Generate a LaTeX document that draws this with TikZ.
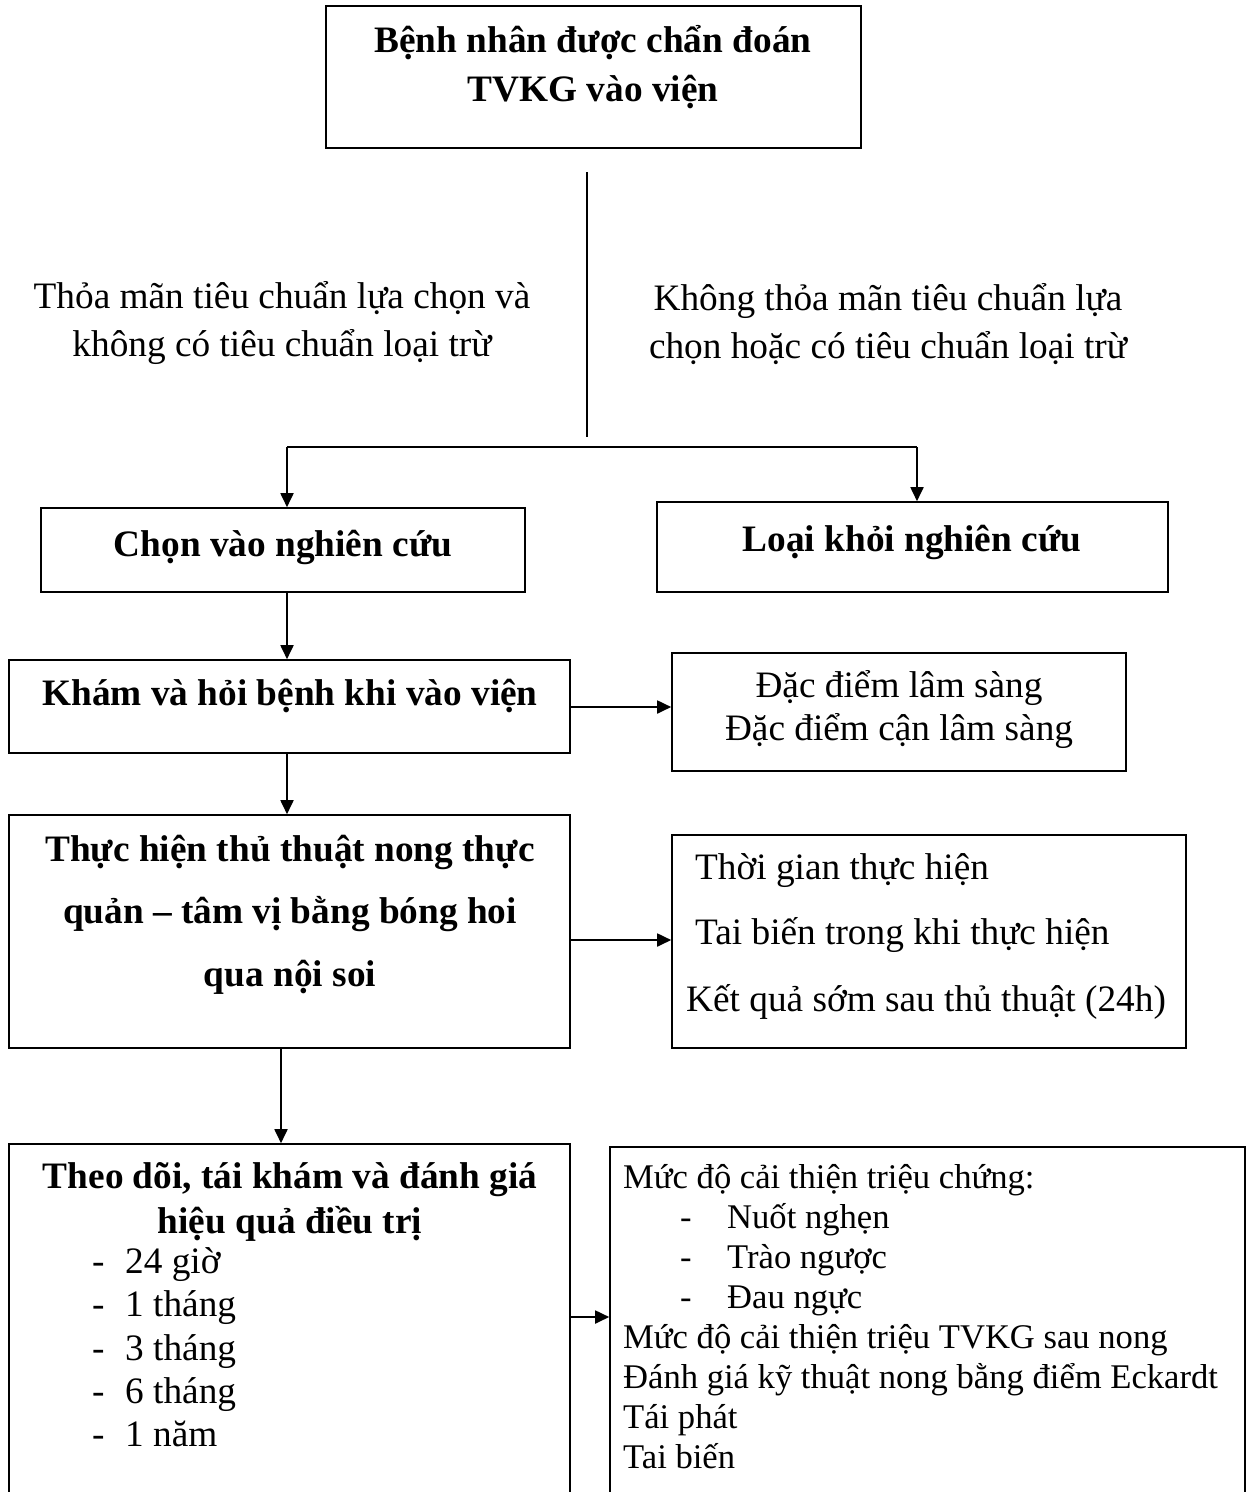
\documentclass[tikz,border=0pt]{standalone}
\usepackage{fontspec}
\setmainfont{Liberation Serif}
\usetikzlibrary{arrows.meta,fit}
\begin{document}
\begin{tikzpicture}[x=1pt,y=-1pt,
  box/.style={draw, line width=1.6pt, inner sep=0pt},
  txt/.style={inner sep=0pt, anchor=base, font=\fontsize{37.3}{42}\selectfont},
  btxt/.style={txt, font=\fontsize{37.3}{42}\selectfont\bfseries},
  ltxt/.style={txt, anchor=base west},
  stxt/.style={ltxt, font=\fontsize{34.6}{40}\selectfont},
  arr/.style={line width=1.8pt, -{Triangle[length=14pt,width=13pt]}},
  ln/.style={line width=1.5pt}]
\clip (0,0) rectangle (1251,1492);
% boxes
\node[box, fit={(326,6) (861,148)}] (top) {};
\node[box, fit={(41,508) (525,592)}] (chon) {};
\node[box, fit={(657,502) (1168,592)}] (loai) {};
\node[box, fit={(9,660) (570,753)}] (kham) {};
\node[box, fit={(672,653) (1126,771)}] (dd) {};
\node[box, fit={(9,815) (570,1048)}] (th) {};
\node[box, fit={(672,835) (1186,1048)}] (tg) {};
\node[box, fit={(9,1144) (570,1520)}] (td) {};
\node[box, fit={(610,1147) (1245,1520)}] (md) {};
% texts
\node[btxt] (t1) at (593,52) {Bệnh nhân được chẩn đoán};
\node[btxt] (t2) at (593,101) {TVKG vào viện};
\node[txt] (l1) at (282,308) {Thỏa mãn tiêu chuẩn lựa chọn và};
\node[txt] (l2) at (282,356) {không có tiêu chuẩn loại trừ};
\node[txt] (r1) at (888,310) {Không thỏa mãn tiêu chuẩn lựa};
\node[txt] (r2) at (888,358) {chọn hoặc có tiêu chuẩn loại trừ};
\node[btxt] (c1) at (283,556) {Chọn vào nghiên cứu};
\node[btxt] (o1) at (912,551) {Loại khỏi nghiên cứu};
\node[btxt] (k1) at (290,705) {Khám và hỏi bệnh khi vào viện};
\node[txt] (d1) at (899,697) {Đặc điểm lâm sàng};
\node[txt] (d2) at (899,740) {Đặc điểm cận lâm sàng};
\node[btxt] (h1) at (290,861) {Thực hiện thủ thuật nong thực};
\node[btxt] (h2) at (290,923) {quản – tâm vị bằng bóng hoi};
\node[btxt] (h3) at (290,986) {qua nội soi};
\node[ltxt] (g1) at (695,879) {Thời gian thực hiện};
\node[ltxt] (g2) at (695,944) {Tai biến trong khi thực hiện};
\node[ltxt] (g3) at (686,1011) {Kết quả sớm sau thủ thuật (24h)};
\node[btxt] (e1) at (290,1188) {Theo dõi, tái khám và đánh giá};
\node[btxt] (e2) at (290,1233) {hiệu quả điều trị};
\foreach \y/\s [count=\i] in {1273/24 giờ,1316/1 tháng,1360/3 tháng,1403/6 tháng,1446/1 năm}{
  \node[ltxt] (ed\i) at (92,\y) {-};
  \node[ltxt] (ei\i) at (125,\y) {\s};
}
\node[stxt] (m1) at (623,1188) {Mức độ cải thiện triệu chứng:};
\foreach \y/\s [count=\i] in {1228/Nuốt nghẹn,1268/Trào ngược,1308/Đau ngực}{
  \node[stxt] (md\i) at (680,\y) {-};
  \node[stxt] (mi\i) at (727,\y) {\s};
}
\node[stxt] (m5) at (623,1348) {Mức độ cải thiện triệu TVKG sau nong};
\node[stxt] (m6) at (623,1388) {Đánh giá kỹ thuật nong bằng điểm Eckardt};
\node[stxt] (m7) at (623,1428) {Tái phát};
\node[stxt] (m8) at (623,1468) {Tai biến};
% connectors
\coordinate (s1) at (587,172);
\coordinate (s2) at (587,437);
\coordinate (hl) at (287,447);
\coordinate (hr) at (917,447);
\coordinate (xb) at (281,0);
\coordinate (ya) at (0,707);
\coordinate (yb) at (0,940);
\coordinate (yc) at (0,1317);
\draw[ln] (s1) -- (s2);
\draw[ln] (hl) -- (hr);
\draw[arr] (hl) -- (hl |- chon.north);
\draw[arr] (hr) -- (hr |- loai.north);
\draw[arr] (hl |- chon.south) -- (hl |- kham.north);
\draw[arr] (kham.east |- ya) -- (dd.west |- ya);
\draw[arr] (hl |- kham.south) -- (hl |- th.north);
\draw[arr] (th.east |- yb) -- (tg.west |- yb);
\draw[arr] (xb |- th.south) -- (xb |- td.north);
\draw[arr] (td.east |- yc) -- (md.west |- yc);
\end{tikzpicture}
\end{document}
